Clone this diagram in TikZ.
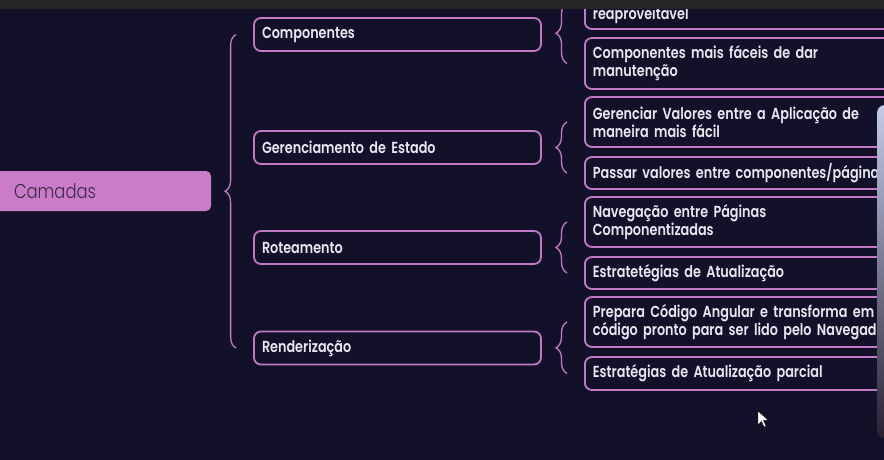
\documentclass[tikz,border=0pt]{standalone}
\usepackage{fontspec}
\setmainfont{Poppins}[UprightFont=* SemiBold, FakeStretch=0.80]
\newfontfamily\camadafont{Poppins Light}[FakeStretch=0.82]
\usetikzlibrary{decorations.pathreplacing}
\definecolor{bgnavy}{HTML}{13112A}
\definecolor{mapline}{HTML}{C27AC4}
\definecolor{rootfill}{HTML}{CB7CC8}
\definecolor{roottext}{HTML}{3E2B47}
\definecolor{boxtext}{HTML}{E8E7F0}
\definecolor{barcolor}{HTML}{262527}
\definecolor{camtop}{HTML}{C4CCEA}
\definecolor{cammid}{HTML}{8E5C7C}
\definecolor{cambot}{HTML}{2A2233}

\begin{document}
\begin{tikzpicture}
[x=1pt, y=-1pt,
root/.style={rectangle, rounded corners=5pt, fill=rootfill, draw=none, minimum width=221pt, minimum height=40pt, inner xsep=24pt, text width=173pt, align=left, font=\camadafont\fontsize{20}{22}\selectfont, text=roottext},
layer/.style={rectangle, rounded corners=7pt, draw=mapline, line width=1.8pt, fill=bgnavy, minimum width=287pt, minimum height=33pt, text width=271pt, inner xsep=8pt, align=left, font=\fontsize{16}{18}\selectfont, text=boxtext},
detail/.style={layer, minimum width=330pt, text width=314pt},
brace/.style={draw=mapline, line width=1.3pt, decoration={brace, amplitude=11pt}, decorate},]
\clip (0,0) rectangle (884,460);
\fill[bgnavy] (0,0) rectangle (884,460);

\node[root] (cam) at (100.5,191) {Camadas};

% second column
\node[layer] (comp) at (397.5,34.5) {Componentes};
\node[layer] (ger) at (397.5,147.5) {Gerenciamento de Estado};
\node[layer] (rot) at (397.5,247.5) {Roteamento};
\node[layer] (rend) at (397.5,348) {Renderização};

\draw[brace] ([xshift=-17pt]rend.west) -- ([xshift=-17pt]comp.west);

% third column
\node[detail, anchor=west, minimum height=52pt] (c1) at (584,3) {\rule{0pt}{20pt}\\reaproveitavel};
\node[detail, anchor=west, minimum height=51pt] (c2) at (584,63.5) {Componentes mais fáceis de dar\\manutenção};
\node[detail, anchor=west, minimum height=50pt] (g1) at (584,122) {Gerenciar Valores entre a Aplicação de\\maneira mais fácil};
\node[detail, anchor=west, minimum height=32pt] (g2) at (584,173) {Passar valores entre componentes/páginas};
\node[detail, anchor=west, minimum height=50pt] (r1) at (584,222) {Navegação entre Páginas\\Componentizadas};
\node[detail, anchor=west, minimum height=32pt] (r2) at (584,273) {Estratetégias de Atualização};
\node[detail, anchor=west, minimum height=50pt] (n1) at (584,322) {Prepara Código Angular e transforma em\\código pronto para ser lido pelo Navegador};
\node[detail, anchor=west, minimum height=33pt] (n2) at (584,373.5) {Estratégias de Atualização parcial};

\draw[brace] ([xshift=-17pt]c2.west) -- ([xshift=-17pt]c1.west);
\draw[brace] ([xshift=-17pt]g2.west) -- ([xshift=-17pt]g1.west);
\draw[brace] ([xshift=-17pt]r2.west) -- ([xshift=-17pt]r1.west);
\draw[brace] ([xshift=-17pt]n2.west) -- ([xshift=-17pt]n1.west);

% screen bits
\fill[barcolor] (0,0) rectangle (884,9);
\shade[rounded corners=8pt, top color=camtop, middle color=cammid, bottom color=cambot] (877,105) rectangle (910,438);
\filldraw[fill=white, draw=black, line width=0.4pt] (758,411) -- (758,425) -- (761.5,421.5) -- (764,427) -- (766,426) -- (763.5,420.5) -- (768,420) -- cycle;
\end{tikzpicture}
\end{document}
